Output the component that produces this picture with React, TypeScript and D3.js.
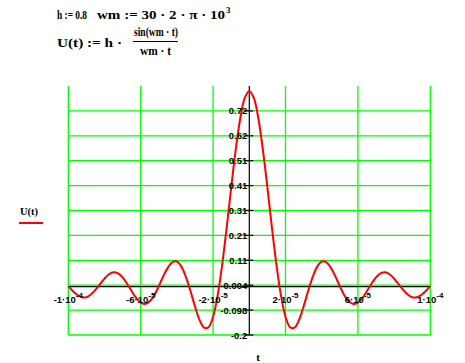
import React from 'react';
import * as d3 from 'd3';

// U(t), t from -1e-4 to 1e-4 every 2.5e-6
const tStart = -1e-4;
const tStep = 2.5e-6;
const uValues = [
  0.000, -0.020, -0.036, -0.045, -0.045, -0.034, -0.015, 0.008, 0.031, 0.049,
  0.057, 0.052, 0.036, 0.010, -0.020, -0.048, -0.067, -0.073, -0.062, -0.037,
  0.000, 0.041, 0.076, 0.099, 0.101, 0.080, 0.037, -0.020, -0.083, -0.138,
  -0.170, -0.168, -0.125, -0.038, 0.087, 0.240, 0.404, 0.559, 0.687, 0.771,
  0.800,
  0.771, 0.687, 0.559, 0.404, 0.240, 0.087, -0.038, -0.125, -0.168, -0.170,
  -0.138, -0.083, -0.020, 0.037, 0.080, 0.101, 0.099, 0.076, 0.041, 0.000,
  -0.037, -0.062, -0.073, -0.067, -0.048, -0.020, 0.010, 0.036, 0.052, 0.057,
  0.049, 0.031, 0.008, -0.015, -0.034, -0.045, -0.045, -0.036, -0.020, 0.000,
];

const tTicks = [-1e-4, -6e-5, -2e-5, 2e-5, 6e-5, 1e-4];
const tTickMantissa = ['-1', '-6', '-2', '2', '6', '1'];
const tTickExp = ['-4', '-5', '-5', '-5', '-5', '-4'];

const uTicks = [-0.2, -0.098, 0.004, 0.106, 0.208, 0.31, 0.412, 0.514, 0.616, 0.718];
const uTickLabels = ['-0.2', '-0.098', '0.004', '0.11', '0.21', '0.31', '0.41', '0.51', '0.62', '0.72'];

const serif = '"Liberation Serif", "Times New Roman", serif';
const sans = '"Liberation Sans", Arial, sans-serif';

export default function App() {
  const width = 465;
  const height = 363;

  const x = d3.scaleLinear().domain([-1e-4, 1e-4]).range([68.3, 430.3]);
  const y = d3.scaleLinear().domain([-0.2, 0.82]).range([335, 86]);

  const pts = uValues.map((u, i) => [tStart + i * tStep, u] as [number, number]);
  const line = d3.line<[number, number]>()
    .x(d => x(d[0]))
    .y(d => y(d[1]))
    .curve(d3.curveCatmullRom);

  const x0 = x(0);
  const y0 = y(0);
  const green = '#00ff00';

  return (
    <svg width={width} height={height} style={{ position: 'absolute', left: 0, top: 0, background: '#fff' }}>
      {/* definitions */}
      <g fontFamily={serif} fontWeight="bold" fill="#000" lengthAdjust="spacingAndGlyphs">
        <text x={57} y={19} fontSize={12} textLength={30} lengthAdjust="spacingAndGlyphs">h := 0.8</text>
        <text x={97} y={19} fontSize={13} textLength={128} lengthAdjust="spacingAndGlyphs">wm := 30 · 2 · π · 10</text>
        <text x={226} y={13} fontSize={9}>3</text>
        <text x={57} y={47} fontSize={13} textLength={65} lengthAdjust="spacingAndGlyphs">U(t) := h ·</text>
        <text x={134} y={36} fontSize={11.5} textLength={44} lengthAdjust="spacingAndGlyphs">sin(wm · t)</text>
        <line x1={133} x2={178} y1={41.5} y2={41.5} stroke="#000" strokeWidth={1} />
        <text x={140} y={55} fontSize={11.5} textLength={31} lengthAdjust="spacingAndGlyphs">wm · t</text>
      </g>

      {/* grid */}
      {tTicks.map((t, i) => (
        <line key={'gx' + i} x1={x(t)} x2={x(t)} y1={y(0.82)} y2={y(-0.2)} stroke={green} strokeWidth={1.3} />
      ))}
      {uTicks.map((u, i) => (
        <line key={'gy' + i} x1={x(-1e-4)} x2={x(1e-4)} y1={y(u)} y2={y(u)} stroke={green} strokeWidth={1.3} />
      ))}

      {/* axes */}
      <line x1={x(-1e-4)} x2={x(1e-4)} y1={y0 + 0.5} y2={y0 + 0.5} stroke="#000" strokeWidth={1.2} />
      <line x1={x0} x2={x0} y1={y(0.82)} y2={y(-0.2)} stroke="#000" strokeWidth={1.2} />
      {uTicks.map((u, i) => (
        <line key={'ty' + i} x1={x0 - 5} x2={x0 + 4} y1={y(u)} y2={y(u)} stroke="#000" strokeWidth={1.2} />
      ))}

      {/* curve */}
      <path d={line(pts) || ''} fill="none" stroke="#ff0000" strokeWidth={2} />

      {/* tick labels */}
      <g fontFamily={sans} fontWeight="bold" fontSize={9.5} fill="#000">
        {uTicks.map((u, i) => (
          <text key={'ly' + i} x={x0 - 2} y={y(u) + 3.5} textAnchor="end">{uTickLabels[i]}</text>
        ))}
        {tTicks.map((t, i) => (
          <text key={'lx' + i} x={x(t)} y={y0 + 17} textAnchor="middle">
            {tTickMantissa[i]}·10<tspan dy={-5} fontSize={8}>{tTickExp[i]}</tspan>
          </text>
        ))}
      </g>

      {/* axis titles / legend */}
      <text x={258} y={361} textAnchor="middle" fontFamily={serif} fontWeight="bold" fontSize={11}>t</text>
      <text x={20} y={215} fontFamily={serif} fontWeight="bold" fontSize={10.5}>U(t)</text>
      <line x1={19} x2={43} y1={223} y2={223} stroke="#ff0000" strokeWidth={2} />
    </svg>
  );
}
